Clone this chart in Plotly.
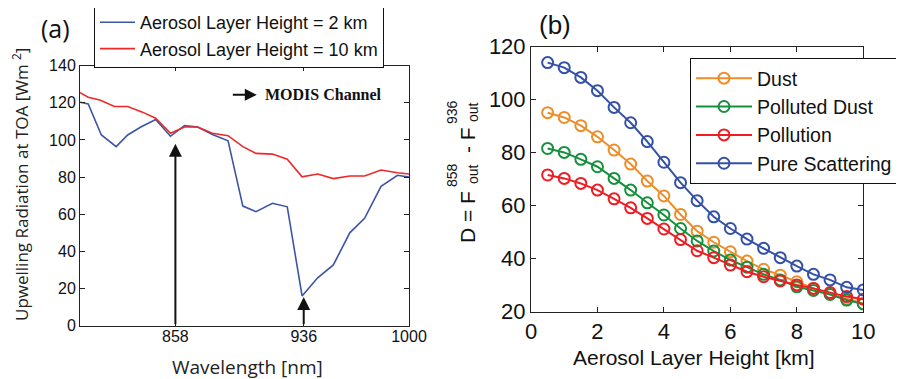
import plotly.graph_objects as go

# ---------------- Panel (a) data ----------------
wl_2km = [800, 805, 813, 822, 829, 837, 846, 855, 863.5, 871.5, 880.5, 890, 899, 907,
          917, 926, 935, 944.5, 954, 964, 973, 983, 993, 1000]
rad_2km = [120.3, 119.4, 102.7, 96.4, 102.7, 107, 111, 102, 107.7, 107, 103, 99.6, 64.4,
           61.4, 65.9, 64, 16, 25.8, 32.7, 50, 57.8, 75, 81, 80]
wl_10km = [800, 805, 812, 821, 829, 838, 846, 855, 863.5, 871.5, 880.5, 890, 899, 907,
           917, 926, 935, 944.5, 954, 964, 973, 983, 993, 1000]
rad_10km = [125.5, 123, 121.5, 118, 118, 115, 111.7, 103.6, 107, 107, 103.6, 102.3, 96.4,
            92.8, 92.4, 89.6, 80.2, 81.7, 79.2, 80.6, 80.6, 83.8, 82.4, 81.7]
channel_wl = [858, 936]
channel_tip = [98, 15.5]
a_xticks = [858, 936, 1000]
a_yticks = [0, 20, 40, 60, 80, 100, 120, 140]

# ---------------- Panel (b) data ----------------
height_km = [0.5, 1.0, 1.5, 2.0, 2.5, 3.0, 3.5, 4.0, 4.5, 5.0,
             5.5, 6.0, 6.5, 7.0, 7.5, 8.0, 8.5, 9.0, 9.5, 10.0]
dust = [95.1, 93.3, 90.2, 86.0, 81.0, 75.7, 69.3, 63.7, 56.7, 50.4,
        46.2, 42.6, 39.1, 36.0, 33.8, 31.3, 28.8, 26.7, 24.8, 23.1]
polluted_dust = [81.6, 80.1, 77.5, 74.7, 70.3, 65.9, 61.1, 56.5, 51.4, 46.7,
                 42.9, 39.5, 36.8, 34.1, 32.0, 29.4, 28.0, 26.5, 24.4, 22.9]
pollution = [71.6, 70.3, 68.4, 65.9, 62.6, 59.2, 55.2, 51.2, 47.2, 43.0,
             40.4, 37.6, 35.1, 33.2, 31.6, 30.1, 28.8, 27.2, 25.7, 24.7]
pure_scattering = [114.0, 112.1, 108.4, 103.4, 97.1, 91.3, 84.2, 76.4, 68.7, 61.9,
                   55.8, 51.4, 47.4, 43.9, 40.4, 37.2, 34.1, 32.0, 29.2, 28.2]
b_names = ["Dust", "Polluted Dust", "Pollution", "Pure Scattering"]
b_colors = ["#EC8E2A", "#17903E", "#EE1D24", "#3451A6"]
b_xticks = [0, 2, 4, 6, 8, 10]
b_yticks = [20, 40, 60, 80, 100, 120]

# page has an 8px body margin; figure sized to fit the 904x379 window
OFF = 8
W, H = 904 - OFF, 379 - OFF


def fx(px):
    return (px - OFF) / W


def fy(py):
    return 1 - (py - OFF) / H


fig = go.Figure()

fig.add_trace(go.Scatter(x=wl_2km, y=rad_2km, mode="lines",
                         line=dict(color="#3C55A5", width=1.6),
                         name="Aerosol Layer Height = 2 km",
                         xaxis="x", yaxis="y", legend="legend"))
fig.add_trace(go.Scatter(x=wl_10km, y=rad_10km, mode="lines",
                         line=dict(color="#F02828", width=1.6),
                         name="Aerosol Layer Height = 10 km",
                         xaxis="x", yaxis="y", legend="legend"))

for name, vals, col in zip(b_names, [dust, polluted_dust, pollution, pure_scattering], b_colors):
    fig.add_trace(go.Scatter(x=height_km, y=vals, mode="lines+markers", name=name,
                             line=dict(color=col, width=2),
                             marker=dict(symbol="circle-open", size=11,
                                         line=dict(color=col, width=2)),
                             xaxis="x2", yaxis="y2", legend="legend2"))

axis_common = dict(showline=True, linecolor="#222", linewidth=1, mirror="ticks",
                   ticks="inside", ticklen=5, tickcolor="#222", showgrid=False,
                   zeroline=False, automargin=False)

fig.update_layout(
    template="none",
    width=W, height=H, margin=dict(l=0, r=0, t=0, b=0, pad=0, autoexpand=False),
    paper_bgcolor="white", plot_bgcolor="white",
    font=dict(family="Liberation Sans, Arial", color="#111"),
    xaxis=dict(domain=[fx(80), fx(409)], range=[800, 1000], tickvals=a_xticks,
               tickfont=dict(size=16), ticklabelstandoff=-4, anchor="y", **axis_common),
    yaxis=dict(domain=[fy(325.7), fy(65.7)], range=[0, 140], tickvals=a_yticks,
               tickfont=dict(size=16), anchor="x", **axis_common),
    xaxis2=dict(domain=[fx(531), fx(863.3)], range=[0, 10], tickvals=b_xticks,
                tickfont=dict(size=22), anchor="y2", **axis_common),
    yaxis2=dict(domain=[fy(311.7), fy(46.7)], range=[20, 120], tickvals=b_yticks,
                tickfont=dict(size=22), anchor="x2", **axis_common),
    legend=dict(x=fx(94), y=fy(3), xanchor="left", yanchor="top",
                bordercolor="#111", borderwidth=1, bgcolor="white",
                font=dict(size=18, family="Liberation Sans, Arial"),
                itemwidth=35),
    legend2=dict(x=fx(690), y=fy(58), xanchor="left", yanchor="top",
                 bordercolor="#111", borderwidth=1, bgcolor="white",
                 font=dict(size=19.5, family="Liberation Sans, Arial"),
                 itemwidth=56),
    showlegend=True,
)

# arrows marking channels
for cw, tip in zip(channel_wl, channel_tip):
    fig.add_annotation(x=cw, y=tip, ax=cw, ay=0, xref="x", yref="y", axref="x", ayref="y",
                       text="", showarrow=True, arrowhead=2, arrowsize=1.3,
                       arrowwidth=2, arrowcolor="#111")

# MODIS Channel key
fig.add_annotation(x=907.5, y=124.3, ax=892, ay=124.3, xref="x", yref="y", axref="x", ayref="y",
                   text="", showarrow=True, arrowhead=2, arrowsize=1.2,
                   arrowwidth=2, arrowcolor="#111")
fig.add_annotation(x=911, y=124.3, xref="x", yref="y", xanchor="left", yanchor="middle",
                   text="<b>MODIS Channel</b>", showarrow=False,
                   font=dict(family="Liberation Serif, Times New Roman", size=16, color="#111"))


def label(px, py, text, size, family="Liberation Sans, Arial", angle=0, color="#111"):
    fig.add_annotation(x=fx(px), y=fy(py), xref="paper", yref="paper", text=text,
                       xanchor="center", yanchor="middle", showarrow=False, textangle=angle,
                       font=dict(family=family, size=size, color=color))


# panel labels
label(55, 28, "(a)", 25, family="Open Sans")
label(555, 25, "(b)", 26)

# axis titles
label(20, 185, "Upwelling Radiation at TOA [Wm <sup>2</sup>]", 17, family="Open Sans",
      angle=-90, color="#222")
label(247, 367, "Wavelength [nm]", 19, family="Open Sans", color="#222")
label(694, 357, "Aerosol Layer Height [km]", 21)

# stacked super/sub-scripts of the panel (b) y title
label(467, 217, "D = F", 21, angle=-90)
label(452, 175, "858", 14, angle=-90)
label(473, 174, "out", 14, angle=-90)
label(467, 140, "- F", 21, angle=-90)
label(452, 112, "936", 14, angle=-90)
label(473, 112, "out", 14, angle=-90)

fig.write_html("out.html")
